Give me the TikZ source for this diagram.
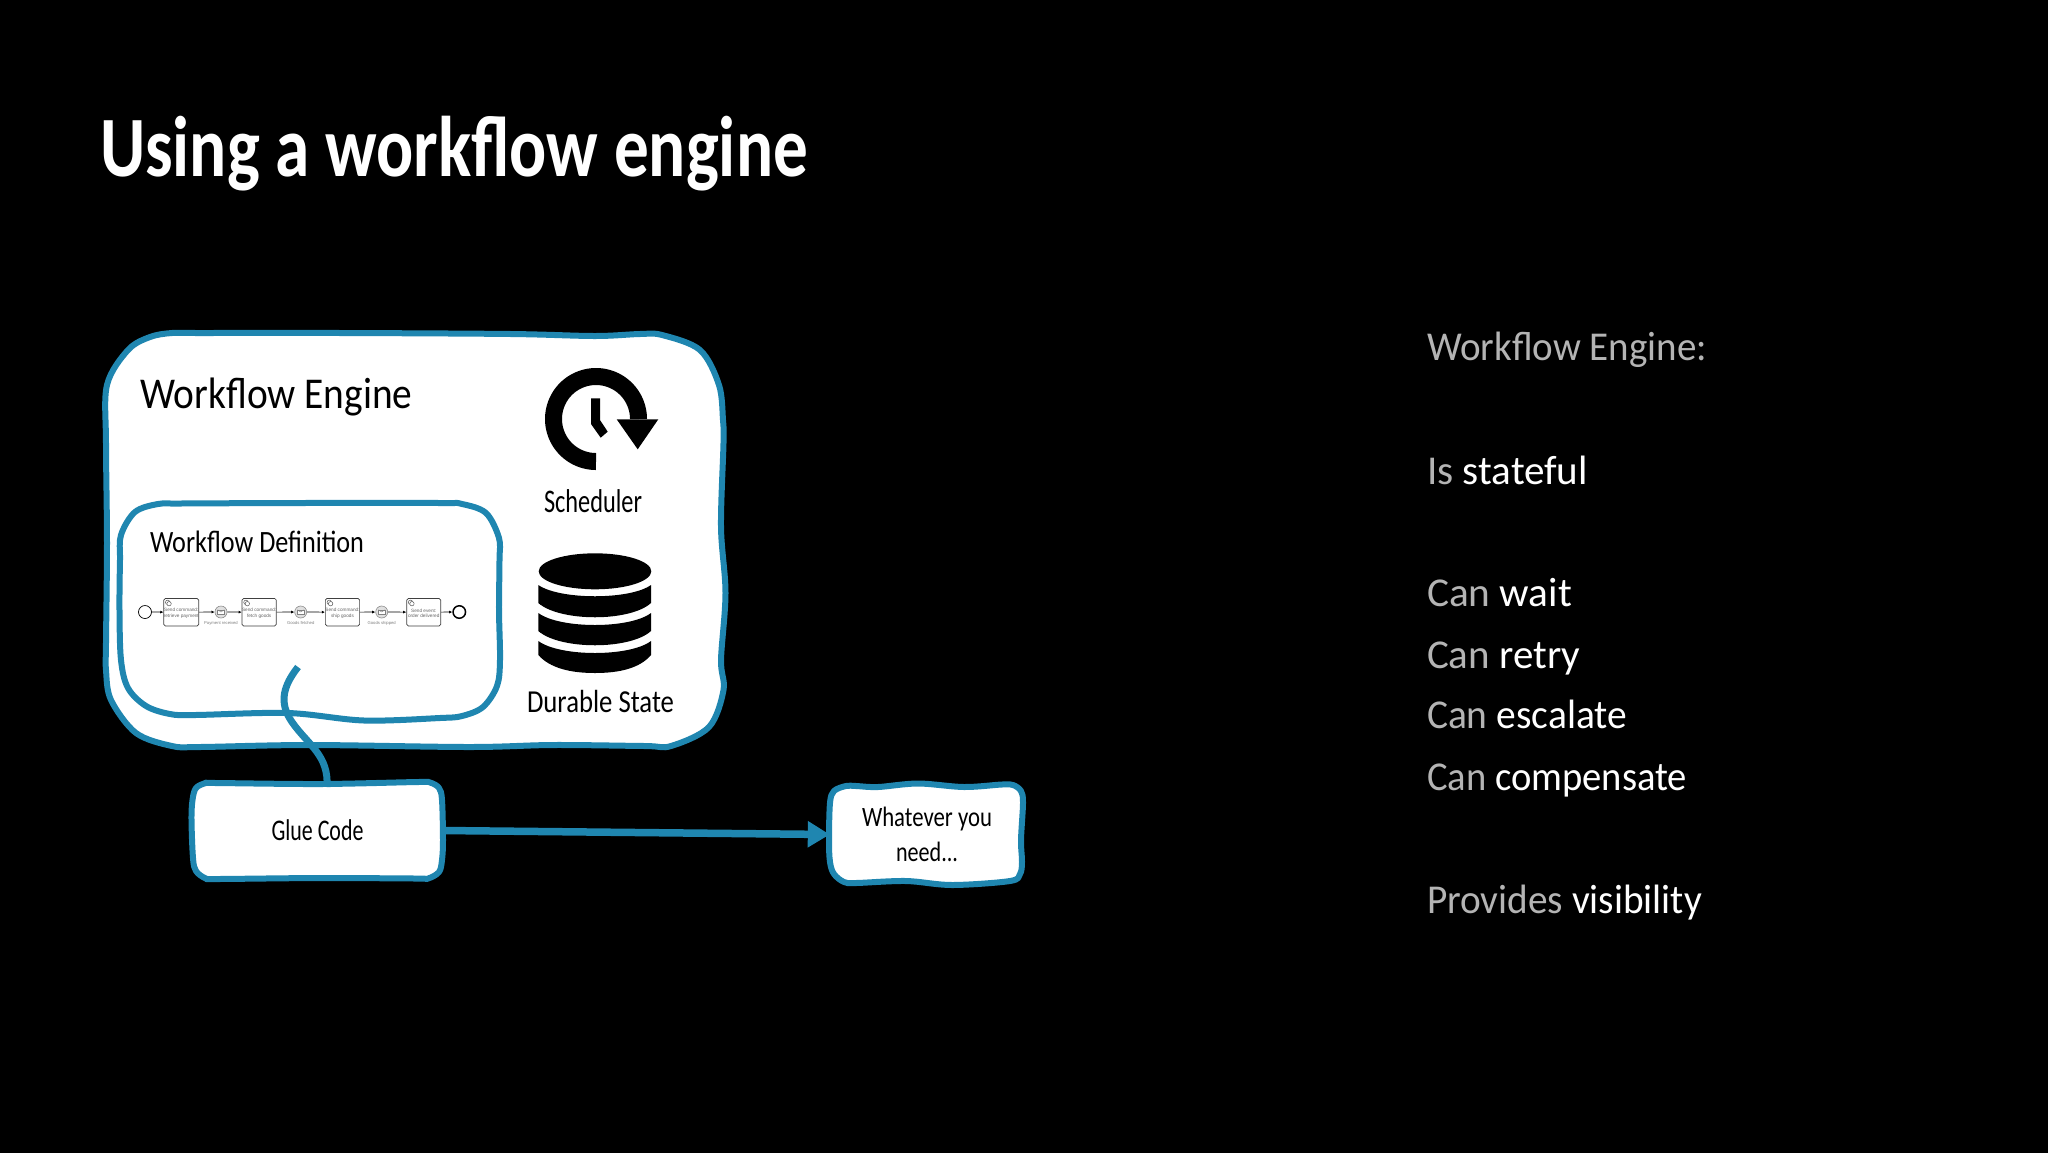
\documentclass[tikz,border=0pt]{standalone}
\usepackage{fontspec}
\usepackage{graphicx}
\setmainfont{Carlito}
\newfontfamily\bpmnfont{Liberation Sans}
\usetikzlibrary{arrows.meta}
\definecolor{wfblue}{HTML}{1F86B0}
\definecolor{softgray}{HTML}{B4B4B4}
\newcommand{\fitw}[2]{\resizebox{#1pt}{\height}{#2}}
\newcommand{\fs}[1]{\fontsize{#1pt}{#1pt}\selectfont}
\tikzset{
  x=1pt,y=-1pt,
  wobble/.style={draw=wfblue,line width=6pt,fill=white,line join=round},
  label/.style={inner sep=0pt,outer sep=0pt,anchor=base west},
  sidetext/.style={label,text=white},
  flowline/.style={draw=wfblue,line width=7.5pt},
  bpmnflow/.style={draw=black,line width=0.7pt,-{Latex[length=3.2pt,width=3pt]}},
  taskbox/.style={draw=black!75,line width=0.7pt,rounded corners=1.6pt,fill=white,minimum width=34pt,minimum height=27.5pt,inner sep=0pt,align=center,text=black!60,font=\bpmnfont\fontsize{4.7pt}{5.6pt}\selectfont},
  msgevent/.style={circle,draw=black!45,line width=0.6pt,fill=black!12,minimum size=12pt,inner sep=0pt},
  evlabel/.style={inner sep=0pt,text=black!50,font=\bpmnfont\fontsize{4.2pt}{5pt}\selectfont},
  startevent/.style={circle,draw=black,line width=0.7pt,fill=white,minimum size=13pt,inner sep=0pt},
  endevent/.style={circle,draw=black,line width=1.5pt,fill=white,minimum size=12.5pt,inner sep=0pt},
  gearmark/.style={draw=black!65,line width=0.5pt,fill=white},
}
\begin{document}
\begin{tikzpicture}
\path[use as bounding box] (0,0) rectangle (2048,1152);
\fill[black] (-6,-6) rectangle (2054,1158);

% title
\node[label,text=white] (title) at (100,176) {\fitw{708}{\fs{86}\bfseries Using a workflow engine}};

% outer box
\draw[wobble] plot[smooth cycle,tension=0.55] coordinates {
 (172,333) (200,333) (342,333) (511,334) (595,336) (640,334) (662,335) (700,350) (719,385)
 (723,420) (723.5,443) (721,527) (725.5,593) (721,660) (723.5,690) (709,727) (671,746) (645,746)
 (553,745) (469,747) (309,745) (200,747) (172,746) (136,733) (111,700)
 (106,670) (106,643) (107,543) (106,443) (107,385) (128,350) (150,337)};

% inner box
\draw[wobble] plot[smooth cycle,tension=0.55] coordinates {
 (158,504) (180,503.5) (300,503) (440,503) (462,504) (486,513) (499,538) (499.5,560)
 (499,610) (500,660) (497,686) (483,707) (462,716) (440,718)
 (364,720.5) (288,713) (195,715) (170,714) (146,706) (128,688) (121,660)
 (119.5,610) (120,560) (121,535) (135,512)};

\node[label] (engine) at (140.5,408) {\fitw{272}{\fs{44}Workflow Engine}};
\node[label] (definition) at (150,552) {\fitw{214}{\fs{31}Workflow Definition}};
\node[label] (schedlabel) at (544,512) {\fitw{98}{\fs{33}Scheduler}};
\node[label] (statelabel) at (527,712.5) {\fitw{147}{\fs{32}Durable State}};

% scheduler icon
\draw[black,line width=17pt] plot[domain=90:360,samples=90,smooth] ({596+42.5*cos(\x)},{419+42.5*sin(\x)});
\fill[black] (616.7,419.3) -- (658.3,419.3) -- (637.7,449.3) -- cycle;
\fill[black] (591,398.3) -- (600,398.3) -- (600,420) -- (607.7,431.7) -- (600.7,437.7) -- (591,424) -- cycle;

% database icon
\fill[black] (595,571.3) ellipse[x radius=56.3,y radius=18];
\fill[black] (538.3,585) .. controls (560,600) and (630,600) .. (651,585) -- (651,603)
  .. controls (630,622) and (560,622) .. (538.3,603) -- cycle;
\fill[black] (538.3,613) .. controls (560,629) and (630,629) .. (651,613) -- (651,631)
  .. controls (630,650) and (560,650) .. (538.3,631) -- cycle;
\fill[black] (538.3,641) .. controls (560,657) and (630,657) .. (651,641) -- (651,655)
  .. controls (640,668) and (620,673) .. (595,673)
  .. controls (570,673) and (550,668) .. (538.3,655) -- cycle;

% BPMN strip
\node[startevent] (start) at (145,612) {};
\node[taskbox] (t1) at (181.3,612.2) {\\Send command:\\retrieve payment};
\node[msgevent] (e1) at (221,612) {};
\node[evlabel] (l1) at (221,623) {Payment received};
\node[taskbox] (t2) at (259.2,612.2) {\\Send command:\\fetch goods};
\node[msgevent] (e2) at (300.7,612) {};
\node[evlabel] (l2) at (300.7,623) {Goods fetched};
\node[taskbox] (t3) at (342.5,612.2) {\\Send command:\\ship goods};
\node[msgevent] (e3) at (381.7,612) {};
\node[evlabel] (l3) at (381.7,623) {Goods shipped};
\node[taskbox] (t4) at (423.7,612.2) {\\Send event:\\order delivered};
\node[endevent] (finish) at (459.3,612) {};
\draw[bpmnflow] (start) -- (t1);
\draw[bpmnflow] (t1) -- (e1);
\draw[bpmnflow] (e1) -- (t2);
\draw[bpmnflow] (t2) -- (e2);
\draw[bpmnflow] (e2) -- (t3);
\draw[bpmnflow] (t3) -- (e3);
\draw[bpmnflow] (e3) -- (t4);
\draw[bpmnflow] (t4) -- (finish);
\foreach \tx in {t1,t2,t3,t4}{
  \path[gearmark] ([shift={(4.2,4.2)}]\tx.north west) circle[radius=2.2];
  \path[gearmark] ([shift={(5.6,5.6)}]\tx.north west) circle[radius=2.2];
}
\foreach \ev in {e1,e2,e3}{
  \draw[black!50,line width=0.4pt,fill=white] ([shift={(-3.4,-2.3)}]\ev.center) rectangle ([shift={(3.4,2.3)}]\ev.center);
  \draw[black!50,line width=0.4pt] ([shift={(-3.4,-2.3)}]\ev.center) -- (\ev.center) -- ([shift={(3.4,-2.3)}]\ev.center);
}

% hook from glue code into the definition
\coordinate (hook) at (298,667);
\coordinate (gluetop) at (327,787);

% glue box
\draw[wobble] plot[smooth cycle,tension=0.55] coordinates {
 (206,783) (216,783) (321,784) (418,782) (430,782.5) (439,788) (442,800)
 (443,840) (442,860) (439,872) (428,878.5) (416,878.5)
 (321,878) (218,879) (206,878.5) (196,871) (193,858)
 (191.5,820) (192.5,800) (196,788)};
\draw[wfblue,line width=7pt] (hook) .. controls (284,685) and (278,702) .. (292,722)
  .. controls (308,745) and (329,755) .. (gluetop);
\node[inner sep=0pt,minimum width=250pt,minimum height=95pt] (glue) at (317.5,830.5) {\fitw{92}{\fs{30}Glue Code}};

% target box
\draw[wobble] plot[smooth cycle,tension=0.55] coordinates {
 (846,786) (856,786) (878,787) (918,783.5) (964,787) (1002,784.5) (1013,785) (1021,791) (1023,803)
 (1021,840) (1022,862) (1020,874) (1010,881) (952,885) (906,881) (856,883) (844,882) (834,874) (830,862)
 (829,840) (830,803) (834,791)};
\node[inner sep=0pt,minimum width=194pt,minimum height=97pt,align=center] (need) at (927,834.5)
  {\fitw{130}{\fs{28}Whatever you}\\[10pt]\fitw{62}{\fs{28}need...}};

\draw[flowline,-{Triangle[length=22pt,width=25pt]}] (glue.east) -- (need.west);

% right column
\node[label,text=softgray] (r1) at (1427,360) {\fitw{280}{\fs{41}Workflow Engine:}};
\node[sidetext] (r2) at (1427,484.5) {\fitw{161}{\fs{41}\textcolor{softgray}{Is} stateful}};
\node[sidetext] (r3) at (1427,606) {\fitw{145}{\fs{41}\textcolor{softgray}{Can} wait}};
\node[sidetext] (r4) at (1427,668) {\fitw{153}{\fs{41}\textcolor{softgray}{Can} retry}};
\node[sidetext] (r5) at (1427,728) {\fitw{200}{\fs{41}\textcolor{softgray}{Can} escalate}};
\node[sidetext] (r6) at (1427,790) {\fitw{260}{\fs{41}\textcolor{softgray}{Can} compensate}};
\node[sidetext] (r7) at (1427,913) {\fitw{275}{\fs{41}\textcolor{softgray}{Provides} visibility}};
\end{tikzpicture}
\end{document}
